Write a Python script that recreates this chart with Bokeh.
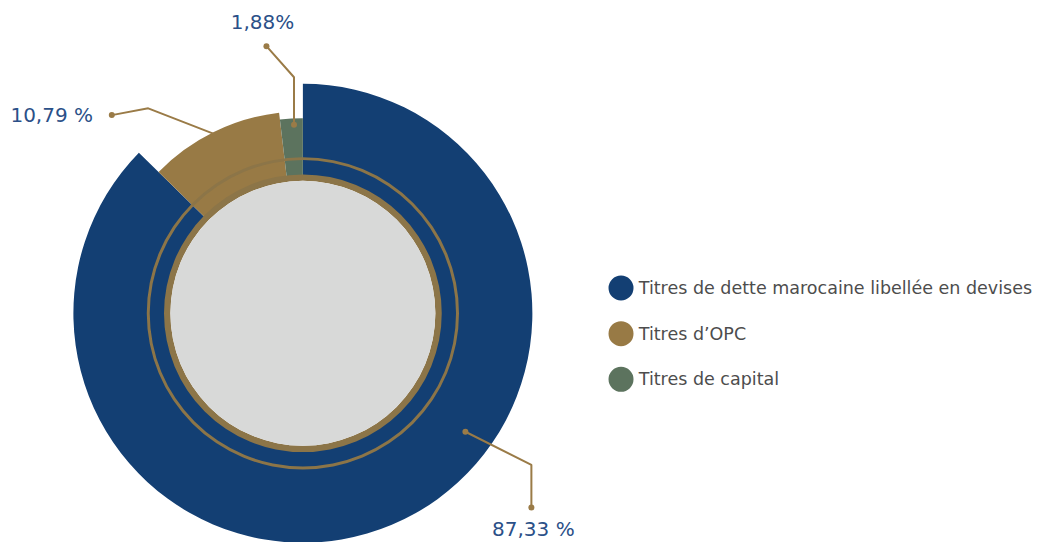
import numpy as np
from bokeh.plotting import figure
from bokeh.models import Range1d, ColumnDataSource
from bokeh.core.properties import value
from bokeh.embed import file_html
from bokeh.resources import INLINE

# ---- data ----
categories = ["Titres de dette marocaine libellée en devises", "Titres d\u2019OPC", "Titres de capital"]
shares = [87.33, 10.79, 1.88]
labels = ["87,33 %", "10,79 %", "1,88%"]
colors = ["#133F73", "#987A45", "#5C735E"]

# ---- layout (reference pixel space, y up) ----
H = 558
cx, cy = 307, H - 322
outer_r = [233, 205, 198]
inner_r = 138

p = figure(width=1047, height=542, output_backend="svg", toolbar_location=None,
           x_range=Range1d(0, 1063), y_range=Range1d(0, 558), min_border=0)
p.axis.visible = False
p.grid.visible = False
p.outline_line_color = None
p.background_fill_color = "white"
p.border_fill_color = "white"

cum = np.cumsum([0] + shares) / 100.0
a0 = np.deg2rad(90 - cum[:-1] * 360)
a1 = np.deg2rad(90 - cum[1:] * 360)
src = ColumnDataSource(dict(x=[cx] * 3, y=[cy] * 3, start=a1, end=a0,
                            outer=outer_r, color=colors))
p.annular_wedge(x="x", y="y", inner_radius=inner_r, outer_radius="outer",
                start_angle="start", end_angle="end", fill_color="color",
                line_color=None, source=src)

ring_col = "#8C7548"
p.annulus(x=[cx], y=[cy], inner_radius=155.5, outer_radius=158.5,
          fill_color=ring_col, line_color=None)
p.annulus(x=[cx], y=[cy], inner_radius=134.5, outer_radius=141,
          fill_color=ring_col, line_color=None)
p.circle(x=[cx], y=[cy], radius=134.5, fill_color="#D8D9D8", line_color=None)

# leader lines
lead = "#9A7B47"
leaders = [
    ([472, 539, 539], [444, 478, 522], [(472, 444), (539, 522)]),
    ([113, 150, 216], [118, 111, 137], [(113, 118)]),
    ([270, 298, 298], [47, 79, 128], [(270, 47), (298, 128)]),
]
for xs, ys, dots in leaders:
    p.line(xs, [H - v for v in ys], line_color=lead, line_width=2)
    p.scatter([d[0] for d in dots], [H - d[1] for d in dots], size=6,
              fill_color=lead, line_color=None)

lab_x = [541, 52, 266]
lab_y = [544, 118, 22]
p.text(x=lab_x, y=[H - v for v in lab_y], text=labels, text_font=value("DejaVu Sans"),
       text_font_size="20px", text_color="#2B5088", text_align="center",
       text_baseline="middle")

# legend
leg_y = [296, 343, 390]
p.scatter([630] * 3, [H - v for v in leg_y], size=25, fill_color=colors, line_color=None)
p.text(x=[648] * 3, y=[H - v for v in leg_y], text=categories, text_font=value("DejaVu Sans"),
       text_font_size="17.5px", text_color="#4D4D4D", text_align="left",
       text_baseline="middle")

open("out.html", "w").write(file_html(p, INLINE))
